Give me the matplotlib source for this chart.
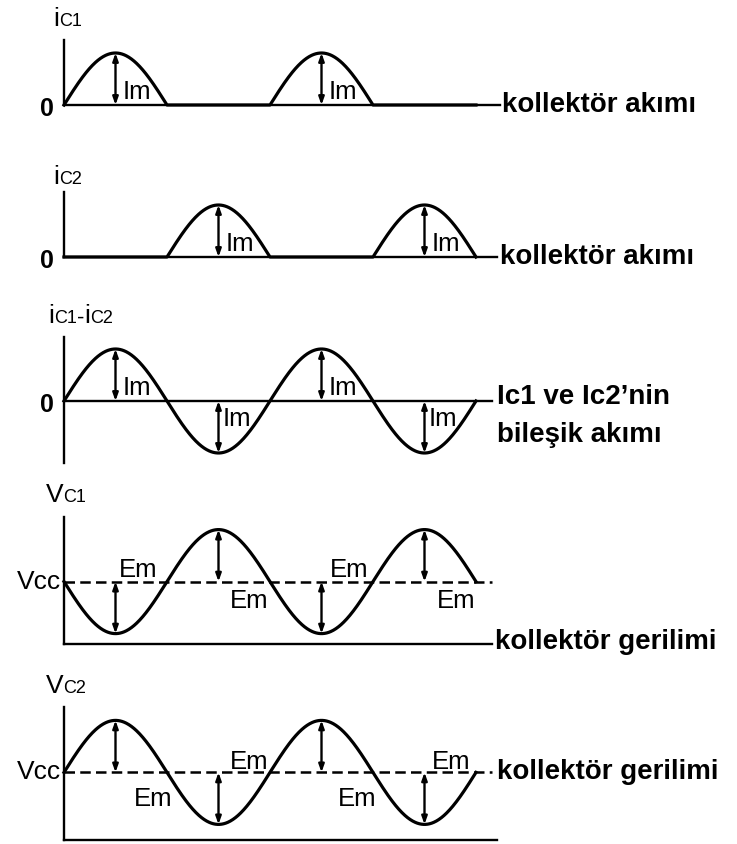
import numpy as np
import matplotlib
matplotlib.use("Agg")
import matplotlib.pyplot as plt
from matplotlib.offsetbox import TextArea, HPacker, AnnotationBbox

plt.rcParams['font.family'] = ['Liberation Sans', 'DejaVu Sans']

# waveform data (x in units of half periods, y in units of Im / Em)
phase = np.linspace(0, 4, 801)
Im = 1.0
Em = 1.0
vcc_levels = [1.2, 1.3]          # Vcc line above the bottom axis, panels 4 and 5
ic1_peaks = [0.5, 2.5]
ic2_peaks = [1.5, 3.5]
vc_peaks = [0.5, 1.5, 2.5, 3.5]
em4_x = [0.72, 1.80, 2.77, 3.81]
em4_y = [0.23, -0.37, 0.23, -0.37]
em5_x = [0.87, 1.80, 2.85, 3.76]
em5_y = [-0.52, 0.20, -0.52, 0.20]

ic1 = Im * np.clip(np.sin(np.pi * phase), 0, None)
ic2 = Im * np.clip(-np.sin(np.pi * phase), 0, None)
idiff = ic1 - ic2

W, H = 737, 844
X0, S, A = 64, 103, 52
LW = 2.3

fig = plt.figure(figsize=(W / 100, H / 100), dpi=100)


def panel(base_px, top_px, bot_px):
    ax = fig.add_axes([0, 1 - bot_px / H, 1, (bot_px - top_px) / H])
    ax.set_xlim(-X0 / S, (W - X0) / S)
    ax.set_ylim(-(bot_px - base_px) / A, (base_px - top_px) / A)
    ax.axis('off')
    return ax


def axis_label(ax, parts, x, y):
    boxes = [TextArea(s, textprops=dict(fontsize=fs, color='k')) for s, fs in parts]
    pack = HPacker(children=boxes, align='baseline', pad=0, sep=0)
    ab = AnnotationBbox(pack, (x, y), xycoords='data', box_alignment=(0, 0),
                        frameon=False, pad=0, annotation_clip=False)
    ax.add_artist(ab)


def arrow(ax, x, y0, y1):
    ax.annotate('', xy=(x, y1), xytext=(x, y0),
                arrowprops=dict(arrowstyle='<|-|>,head_length=0.45,head_width=0.16',
                                lw=1.7, color='k', shrinkA=0, shrinkB=0))


def right_label(ax, x, y, s):
    ax.text(x, y, s, fontsize=20, fontweight='bold', ha='left', va='center')


# panel 1 : ic1
ax = panel(105, 0, 150)
ax.plot([0, 0], [0, 1.25], color='k', lw=1.7)
ax.plot([0, 4.23], [0, 0], color='k', lw=1.7)
ax.plot(phase, ic1, color='k', lw=LW)
for p in ic1_peaks:
    arrow(ax, p, 0, Im)
    ax.text(p + 0.07, 0.25, 'Im', fontsize=18.5, va='center')
ax.text(-0.17, -0.08, '0', fontsize=18, fontweight='bold', ha='center', va='center')
axis_label(ax, [('i', 19), ('C1', 13)], -0.1, 1.42)
right_label(ax, 4.25, 0, 'kollektör akımı')

# panel 2 : ic2
ax = panel(257, 150, 300)
ax.plot([0, 0], [0, 1.25], color='k', lw=1.7)
ax.plot([0, 4.2], [0, 0], color='k', lw=1.7)
ax.plot(phase, ic2, color='k', lw=LW)
for p in ic2_peaks:
    arrow(ax, p, 0, Im)
    ax.text(p + 0.07, 0.25, 'Im', fontsize=18.5, va='center')
ax.text(-0.17, -0.08, '0', fontsize=18, fontweight='bold', ha='center', va='center')
axis_label(ax, [('i', 19), ('C2', 13)], -0.1, 1.31)
right_label(ax, 4.23, 0, 'kollektör akımı')

# panel 3 : ic1 - ic2
ax = panel(401, 300, 480)
ax.plot([0, 0], [-1.19, 1.23], color='k', lw=1.7)
ax.plot([0, 4.16], [0, 0], color='k', lw=1.7)
ax.plot(phase, idiff, color='k', lw=LW)
for p in ic1_peaks:
    arrow(ax, p, 0, Im)
    ax.text(p + 0.07, 0.25, 'Im', fontsize=18.5, va='center')
for p in ic2_peaks:
    arrow(ax, p, 0, -Im)
    ax.text(p + 0.04, -0.35, 'Im', fontsize=18.5, va='center')
ax.text(-0.17, -0.08, '0', fontsize=18, fontweight='bold', ha='center', va='center')
axis_label(ax, [('i', 19), ('C1', 13), ('-', 16), ('i', 19), ('C2', 13)], -0.15, 1.4)
right_label(ax, 4.2, 0.08, 'Ic1 ve Ic2’nin')
right_label(ax, 4.2, -0.65, 'bileşik akımı')

# panel 4 : Vc1
vcc = vcc_levels[0]
vc1 = vcc - Em * np.sin(np.pi * phase)
ax = panel(644, 480, 660)
ax.plot([0, 0], [0, 2.44], color='k', lw=1.7)
ax.plot([0, 4.16], [0, 0], color='k', lw=1.7)
ax.plot([0, 4.16], [vcc, vcc], color='k', lw=1.8, ls=(0, (4.2, 2.1)))
ax.plot(phase, vc1, color='k', lw=LW)
for p in vc_peaks:
    arrow(ax, p, vcc, vcc - Em * np.sin(np.pi * p))
for x, y in zip(em4_x, em4_y):
    ax.text(x, vcc + y, 'Em', fontsize=18.5, ha='center', va='center')
ax.text(-0.03, vcc, 'Vcc', fontsize=19, ha='right', va='center')
axis_label(ax, [('V', 19), ('C1', 13)], -0.18, 2.63)
right_label(ax, 4.18, 0.04, 'kollektör gerilimi')

# panel 5 : Vc2
vcc = vcc_levels[1]
vc2 = vcc + Em * np.sin(np.pi * phase)
ax = panel(840, 660, 844)
ax.plot([0, 0], [0, 2.56], color='k', lw=1.7)
ax.plot([0, 4.2], [0, 0], color='k', lw=1.7)
ax.plot([0, 4.16], [vcc, vcc], color='k', lw=1.8, ls=(0, (4.2, 2.1)))
ax.plot(phase, vc2, color='k', lw=LW)
for p in vc_peaks:
    arrow(ax, p, vcc, vcc + Em * np.sin(np.pi * p))
for x, y in zip(em5_x, em5_y):
    ax.text(x, vcc + y, 'Em', fontsize=18.5, ha='center', va='center')
ax.text(-0.03, vcc, 'Vcc', fontsize=19, ha='right', va='center')
axis_label(ax, [('V', 19), ('C2', 13)], -0.18, 2.73)
right_label(ax, 4.2, vcc, 'kollektör gerilimi')

fig.savefig('out.png', dpi=100)
